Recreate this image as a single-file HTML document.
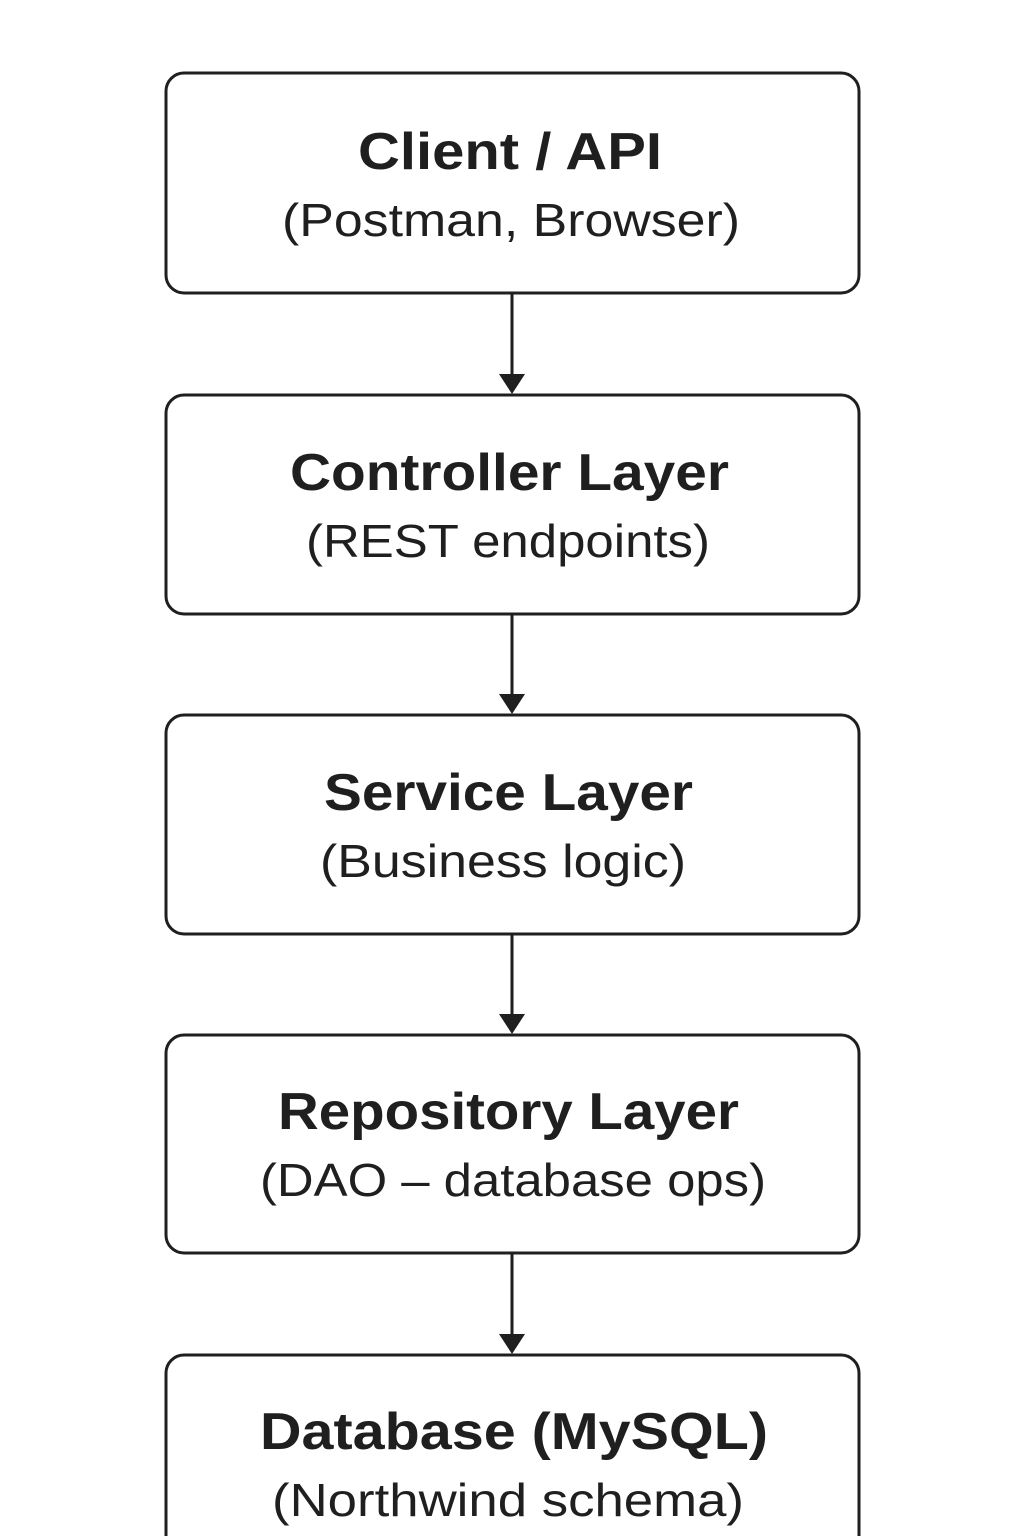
<!DOCTYPE html>
<html><head><meta charset="utf-8"><style>html,body{margin:0;padding:0;background:#fff;}svg{display:block}</style></head>
<body>
<svg width="1024" height="1536" viewBox="0 0 1024 1536" xmlns="http://www.w3.org/2000/svg">
<rect width="1024" height="1536" fill="#fff"/>
<g fill="none" stroke="#1f1f1f" stroke-width="3">
<rect x="166" y="73" width="693" height="220" rx="18"/>
<rect x="166" y="395" width="693" height="219" rx="18"/>
<rect x="166" y="715" width="693" height="219" rx="18"/>
<rect x="166" y="1035" width="693" height="218" rx="18"/>
<rect x="166" y="1355" width="693" height="230" rx="18"/>
<line x1="512" y1="293" x2="512" y2="378"/>
<line x1="512" y1="614" x2="512" y2="698"/>
<line x1="512" y1="934" x2="512" y2="1018"/>
<line x1="512" y1="1253" x2="512" y2="1338"/>
</g>
<g fill="#1f1f1f">
<polygon points="499,374 525,374 512,394"/>
<polygon points="499,694 525,694 512,714"/>
<polygon points="499,1014 525,1014 512,1034"/>
<polygon points="499,1334 525,1334 512,1354"/>
</g>
<g font-family="Liberation Sans, sans-serif" fill="#1f1f1f" lengthAdjust="spacingAndGlyphs">
<text x="358" y="169" font-size="52" font-weight="bold" textLength="304" lengthAdjust="spacingAndGlyphs">Client / API</text>
<text x="282" y="236" font-size="46" textLength="458" lengthAdjust="spacingAndGlyphs">(Postman, Browser)</text>
<text x="290" y="490" font-size="52" font-weight="bold" textLength="439" lengthAdjust="spacingAndGlyphs">Controller Layer</text>
<text x="306" y="557" font-size="46" textLength="404" lengthAdjust="spacingAndGlyphs">(REST endpoints)</text>
<text x="324" y="810" font-size="52" font-weight="bold" textLength="369" lengthAdjust="spacingAndGlyphs">Service Layer</text>
<text x="320" y="877" font-size="46" textLength="366" lengthAdjust="spacingAndGlyphs">(Business logic)</text>
<text x="278" y="1129" font-size="52" font-weight="bold" textLength="461" lengthAdjust="spacingAndGlyphs">Repository Layer</text>
<text x="260" y="1196" font-size="46" textLength="506" lengthAdjust="spacingAndGlyphs">(DAO – database ops)</text>
<text x="260" y="1449" font-size="52" font-weight="bold" textLength="508" lengthAdjust="spacingAndGlyphs">Database (MySQL)</text>
<text x="272" y="1516" font-size="46" textLength="472" lengthAdjust="spacingAndGlyphs">(Northwind schema)</text>
</g>
</svg>
</body></html>
